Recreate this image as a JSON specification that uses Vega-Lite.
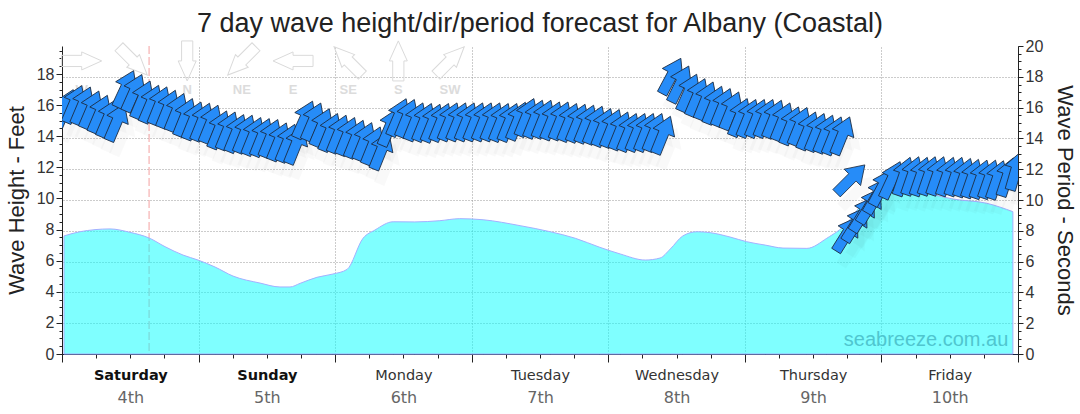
{
  "$schema": "https://vega.github.io/schema/vega-lite/v6.json",
  "width": 956,
  "height": 308,
  "autosize": "none",
  "padding": {"left": 62, "top": 46, "right": 62, "bottom": 60},
  "background": "white",
  "title": {
    "text": "7 day wave height/dir/period forecast for Albany (Coastal)",
    "font": "Liberation Sans",
    "fontSize": 27,
    "fontWeight": "normal",
    "color": "#222222",
    "anchor": "middle",
    "baseline": "alphabetic",
    "offset": 5,
    "dy": 26
  },
  "config": {
    "view": {"stroke": null},
    "axis": {"labelFont": "Liberation Sans", "titleFont": "Liberation Sans"}
  },
  "datasets": {
    "waves": [
      {"h": 0.35, "ft": 7.59}, {"h": 3.16, "ft": 7.86}, {"h": 8.44, "ft": 8.04}, {"h": 11.95, "ft": 7.82},
      {"h": 15.29, "ft": 7.46}, {"h": 18.1, "ft": 6.9}, {"h": 21.27, "ft": 6.36}, {"h": 23.9, "ft": 6.04},
      {"h": 26.9, "ft": 5.59}, {"h": 30.05, "ft": 5.01}, {"h": 34.8, "ft": 4.56}, {"h": 38.3, "ft": 4.31},
      {"h": 40.07, "ft": 4.31}, {"h": 41.83, "ft": 4.54}, {"h": 44.8, "ft": 4.93}, {"h": 47.6, "ft": 5.14},
      {"h": 50.1, "ft": 5.44}, {"h": 52.9, "ft": 7.44}, {"h": 55.0, "ft": 7.97}, {"h": 58.2, "ft": 8.5},
      {"h": 62.0, "ft": 8.49}, {"h": 66.4, "ft": 8.57}, {"h": 69.9, "ft": 8.7}, {"h": 74.0, "ft": 8.63},
      {"h": 80.5, "ft": 8.25}, {"h": 85.8, "ft": 7.86}, {"h": 90.2, "ft": 7.44}, {"h": 94.5, "ft": 6.86},
      {"h": 98.1, "ft": 6.43}, {"h": 102.5, "ft": 6.04}, {"h": 105.1, "ft": 6.17}, {"h": 106.9, "ft": 6.75},
      {"h": 109.1, "ft": 7.59}, {"h": 111.6, "ft": 7.86}, {"h": 113.9, "ft": 7.8}, {"h": 117.4, "ft": 7.52},
      {"h": 120.3, "ft": 7.22}, {"h": 123.6, "ft": 7.0}, {"h": 126.7, "ft": 6.81}, {"h": 130.9, "ft": 6.79},
      {"h": 134.4, "ft": 7.44}, {"h": 137.9, "ft": 8.4}, {"h": 140.2, "ft": 9.47}, {"h": 143.2, "ft": 10.54},
      {"h": 145.5, "ft": 10.74}, {"h": 149.0, "ft": 10.48}, {"h": 152.5, "ft": 10.29}, {"h": 156.6, "ft": 9.96},
      {"h": 162.5, "ft": 9.69}, {"h": 167.1, "ft": 9.15}
    ],
    "arrows": [
      {"h": 0.6, "period": 15.97, "dir": 203}, {"h": 2.1, "period": 16.23, "dir": 203}, {"h": 3.6, "period": 16.14, "dir": 203},
      {"h": 5.1, "period": 15.88, "dir": 203}, {"h": 6.6, "period": 15.6, "dir": 203}, {"h": 8.1, "period": 15.32, "dir": 203},
      {"h": 9.6, "period": 15.06, "dir": 203}, {"h": 11.1, "period": 17.22, "dir": 205}, {"h": 12.6, "period": 16.96, "dir": 204},
      {"h": 14.1, "period": 16.53, "dir": 203}, {"h": 15.6, "period": 16.25, "dir": 203}, {"h": 17.1, "period": 16.14, "dir": 202},
      {"h": 18.6, "period": 15.92, "dir": 202}, {"h": 20.1, "period": 15.71, "dir": 202}, {"h": 21.6, "period": 15.38, "dir": 202},
      {"h": 23.1, "period": 15.16, "dir": 202}, {"h": 24.6, "period": 15.08, "dir": 202}, {"h": 26.1, "period": 14.95, "dir": 202},
      {"h": 27.6, "period": 14.58, "dir": 202}, {"h": 29.1, "period": 14.51, "dir": 202}, {"h": 30.6, "period": 14.34, "dir": 202},
      {"h": 32.1, "period": 14.3, "dir": 202}, {"h": 33.6, "period": 14.15, "dir": 202}, {"h": 35.1, "period": 14.08, "dir": 202},
      {"h": 36.6, "period": 14.02, "dir": 202}, {"h": 38.1, "period": 13.8, "dir": 202}, {"h": 39.6, "period": 13.71, "dir": 202},
      {"h": 41.1, "period": 13.58, "dir": 202}, {"h": 42.6, "period": 15.23, "dir": 204}, {"h": 44.1, "period": 15.1, "dir": 203},
      {"h": 45.6, "period": 14.73, "dir": 203}, {"h": 47.1, "period": 14.41, "dir": 202}, {"h": 48.6, "period": 14.3, "dir": 202},
      {"h": 50.1, "period": 14.15, "dir": 202}, {"h": 51.6, "period": 13.97, "dir": 202}, {"h": 53.1, "period": 13.82, "dir": 202},
      {"h": 54.6, "period": 13.54, "dir": 202}, {"h": 56.1, "period": 13.21, "dir": 202}, {"h": 57.6, "period": 14.74, "dir": 203},
      {"h": 59.1, "period": 15.38, "dir": 203}, {"h": 60.6, "period": 15.32, "dir": 202}, {"h": 62.1, "period": 15.1, "dir": 202},
      {"h": 63.6, "period": 15.06, "dir": 202}, {"h": 65.1, "period": 15.01, "dir": 202}, {"h": 66.6, "period": 15.06, "dir": 202},
      {"h": 68.1, "period": 15.1, "dir": 202}, {"h": 69.6, "period": 15.1, "dir": 202}, {"h": 71.1, "period": 15.1, "dir": 202},
      {"h": 72.6, "period": 15.1, "dir": 202}, {"h": 74.1, "period": 15.1, "dir": 202}, {"h": 75.6, "period": 15.1, "dir": 202},
      {"h": 77.1, "period": 15.06, "dir": 202}, {"h": 78.6, "period": 15.06, "dir": 202}, {"h": 80.1, "period": 15.14, "dir": 202},
      {"h": 81.6, "period": 15.38, "dir": 202}, {"h": 83.1, "period": 15.27, "dir": 202}, {"h": 84.6, "period": 15.27, "dir": 202},
      {"h": 86.1, "period": 15.16, "dir": 202}, {"h": 87.6, "period": 15.16, "dir": 202}, {"h": 89.1, "period": 15.06, "dir": 202},
      {"h": 90.6, "period": 15.01, "dir": 202}, {"h": 92.1, "period": 14.95, "dir": 202}, {"h": 93.6, "period": 14.88, "dir": 202},
      {"h": 95.1, "period": 14.73, "dir": 202}, {"h": 96.6, "period": 14.67, "dir": 202}, {"h": 98.1, "period": 14.51, "dir": 202},
      {"h": 99.6, "period": 14.41, "dir": 202}, {"h": 101.1, "period": 14.41, "dir": 202}, {"h": 102.6, "period": 14.41, "dir": 202},
      {"h": 104.1, "period": 14.41, "dir": 202}, {"h": 105.6, "period": 14.23, "dir": 202}, {"h": 107.1, "period": 18.05, "dir": 208},
      {"h": 108.6, "period": 17.53, "dir": 206}, {"h": 110.1, "period": 16.98, "dir": 204}, {"h": 111.6, "period": 16.68, "dir": 203},
      {"h": 113.1, "period": 16.46, "dir": 202}, {"h": 114.6, "period": 16.18, "dir": 202}, {"h": 116.1, "period": 16.03, "dir": 202},
      {"h": 117.6, "period": 15.81, "dir": 202}, {"h": 119.1, "period": 15.38, "dir": 202}, {"h": 120.6, "period": 15.32, "dir": 202},
      {"h": 122.1, "period": 15.32, "dir": 202}, {"h": 123.6, "period": 15.32, "dir": 202}, {"h": 125.1, "period": 15.27, "dir": 202},
      {"h": 126.6, "period": 15.1, "dir": 202}, {"h": 128.1, "period": 14.84, "dir": 202}, {"h": 129.6, "period": 14.8, "dir": 202},
      {"h": 131.1, "period": 14.51, "dir": 202}, {"h": 132.6, "period": 14.41, "dir": 202}, {"h": 134.1, "period": 14.3, "dir": 202},
      {"h": 135.6, "period": 14.19, "dir": 202}, {"h": 137.1, "period": 14.19, "dir": 202},
      {"h": 138.6, "period": 11.36, "dir": 225},
      {"h": 137.9, "period": 7.79, "dir": 212}, {"h": 139.5, "period": 8.44, "dir": 212}, {"h": 140.8, "period": 9.09, "dir": 212},
      {"h": 142.0, "period": 9.64, "dir": 211}, {"h": 143.2, "period": 10.29, "dir": 210}, {"h": 144.1, "period": 10.82, "dir": 208},
      {"h": 145.8, "period": 11.31, "dir": 205}, {"h": 147.9, "period": 11.54, "dir": 199}, {"h": 149.4, "period": 11.58, "dir": 199},
      {"h": 150.9, "period": 11.54, "dir": 199}, {"h": 152.3, "period": 11.58, "dir": 199}, {"h": 153.8, "period": 11.58, "dir": 199},
      {"h": 155.5, "period": 11.54, "dir": 199}, {"h": 157.0, "period": 11.54, "dir": 199}, {"h": 158.5, "period": 11.47, "dir": 199},
      {"h": 159.9, "period": 11.41, "dir": 199}, {"h": 161.4, "period": 11.36, "dir": 199}, {"h": 162.9, "period": 11.36, "dir": 199},
      {"h": 164.3, "period": 11.32, "dir": 199}, {"h": 166.1, "period": 11.5, "dir": 198}, {"h": 167.6, "period": 11.9, "dir": 196}
    ],
    "key": [
      {"key": "W", "kh": 3.46, "kdir": 270}, {"key": "NW", "kh": 12.5, "kdir": 315},
      {"key": "N", "kh": 22.0, "kdir": 0}, {"key": "NE", "kh": 31.6, "kdir": 45},
      {"key": "E", "kh": 40.6, "kdir": 90}, {"key": "SE", "kh": 50.3, "kdir": 135},
      {"key": "S", "kh": 59.1, "kdir": 180}, {"key": "SW", "kh": 68.2, "kdir": 225}
    ]
  },
  "layer": [
    {
      "data": {"values": [{}]},
      "mark": {"type": "rule", "color": "#f4a0a0", "strokeDash": [8, 3], "strokeWidth": 1},
      "encoding": {
        "x": {
          "datum": 15.3, "type": "quantitative",
          "scale": {"domain": [0, 168], "nice": false, "zero": false},
          "axis": {
            "orient": "bottom", "values": [0, 24, 48, 72, 96, 120, 144, 168],
            "labels": false, "tickSize": 8, "tickColor": "#222222", "domainColor": "#1a2440",
            "grid": true, "gridColor": "#999999", "gridDash": [1, 2], "gridWidth": 1, "title": null
          }
        }
      }
    },
    {
      "data": {"name": "waves"},
      "mark": {"type": "area", "interpolate": "monotone", "fill": "#00ffff", "fillOpacity": 0.5, "stroke": "#a4b0ff", "strokeWidth": 1},
      "encoding": {
        "x": {
          "field": "h", "type": "quantitative",
          "scale": {"domain": [0, 168], "nice": false, "zero": false},
          "axis": {
            "orient": "bottom", "values": [12, 36, 60, 84, 108, 132, 156],
            "labelExpr": "['Saturday','Sunday','Monday','Tuesday','Wednesday','Thursday','Friday'][floor(datum.value/24)]",
            "labelFont": "DejaVu Sans", "labelFontSize": 14.5,
            "labelFontWeight": {"condition": {"test": "datum.value < 48", "value": "bold"}, "value": "normal"},
            "labelColor": {"condition": {"test": "datum.value < 48", "value": "#111111"}, "value": "#333333"},
            "labelPadding": 14, "ticks": false, "tickSize": 0, "domain": false, "grid": false, "title": null
          }
        },
        "y": {
          "field": "ft", "type": "quantitative",
          "scale": {"domain": [0, 19.8], "nice": false, "zero": true},
          "axis": {
            "orient": "left", "values": [0, 2, 4, 6, 8, 10, 12, 14, 16, 18],
            "tickSize": 6, "tickColor": "#222222", "domainColor": "#222222",
            "labelFontSize": 16, "labelColor": "#333333", "labelPadding": 2, "grid": false,
            "title": "Wave Height - Feet", "titleFontSize": 22, "titleFontWeight": "normal", "titleColor": "#222222", "titlePadding": 8
          }
        }
      }
    },
    {
      "data": {"name": "key"},
      "mark": {"type": "point", "shape": "M0,-1L0.45,0L0.28,0L0.28,1L-0.28,1L-0.28,0L-0.45,0Z", "size": 1600, "filled": false, "fill": null, "stroke": "#dadada", "strokeWidth": 1, "opacity": 1},
      "encoding": {
        "x": {
          "field": "kh", "type": "quantitative",
          "scale": {"domain": [0, 168], "nice": false, "zero": false},
          "axis": {
            "orient": "bottom", "values": [12, 36, 60, 84, 108, 132, 156],
            "labelExpr": "['4th','5th','6th','7th','8th','9th','10th'][floor(datum.value/24)]",
            "labelFont": "DejaVu Sans", "labelFontSize": 16, "labelColor": "#666666",
            "labelPadding": 35, "ticks": false, "tickSize": 0, "domain": false, "grid": false, "title": null
          }
        },
        "y": {
          "datum": 18.84, "type": "quantitative",
          "scale": {"domain": [0, 19.8], "nice": false, "zero": true},
          "axis": {
            "orient": "left", "values": [0, 0.5, 1, 1.5, 2, 2.5, 3, 3.5, 4, 4.5, 5, 5.5, 6, 6.5, 7, 7.5, 8, 8.5, 9, 9.5, 10, 10.5, 11, 11.5, 12, 12.5, 13, 13.5, 14, 14.5, 15, 15.5, 16, 16.5, 17, 17.5, 18, 18.5, 19, 19.5],
            "labels": false, "tickSize": 3, "tickColor": "#222222", "domain": false, "grid": false, "title": null
          }
        },
        "angle": {"field": "kdir", "type": "quantitative", "scale": {"domain": [0, 360], "range": [180, 540]}, "legend": null}
      }
    },
    {
      "data": {"name": "key"},
      "mark": {"type": "text", "font": "Liberation Sans", "fontSize": 13, "fontWeight": "bold", "color": "#dcdcdc", "baseline": "middle", "align": "center"},
      "encoding": {
        "x": {
          "field": "kh", "type": "quantitative",
          "scale": {"domain": [0, 168], "nice": false, "zero": false},
          "axis": {
            "orient": "bottom", "values": [0, 6, 12, 18, 24, 30, 36, 42, 48, 54, 60, 66, 72, 78, 84, 90, 96, 102, 108, 114, 120, 126, 132, 138, 144, 150, 156, 162, 168],
            "labels": false, "tickSize": 4, "tickColor": "#222222", "domain": false, "grid": false, "title": null
          }
        },
        "y": {"datum": 16.97, "type": "quantitative", "scale": {"domain": [0, 19.8], "nice": false, "zero": true}, "axis": null},
        "text": {"field": "key"}
      }
    },
    {
      "data": {"name": "arrows"},
      "mark": {"type": "point", "shape": "M0,-1L0.58,-0.12L0.26,-0.12L0.26,1L-0.26,1L-0.26,-0.12L-0.58,-0.12Z", "size": 1900, "filled": true, "fill": "#000000", "fillOpacity": 0.022, "strokeWidth": 0, "opacity": 1, "xOffset": 6, "yOffset": 13, "clip": true},
      "encoding": {
        "x": {"field": "h", "type": "quantitative", "scale": {"domain": [0, 168], "nice": false, "zero": false}, "axis": null},
        "y": {"field": "period", "type": "quantitative", "scale": {"domain": [0, 20], "nice": false, "zero": true}, "axis": null},
        "angle": {"field": "dir", "type": "quantitative", "scale": {"domain": [0, 360], "range": [180, 540]}, "legend": null}
      }
    },
    {
      "data": {"name": "arrows"},
      "mark": {"type": "point", "shape": "M0,-1L0.58,-0.12L0.26,-0.12L0.26,1L-0.26,1L-0.26,-0.12L-0.58,-0.12Z", "size": 1600, "filled": true, "fill": "#268cf8", "stroke": "#1b2b40", "strokeWidth": 0.8, "opacity": 1, "clip": true},
      "encoding": {
        "x": {"field": "h", "type": "quantitative", "scale": {"domain": [0, 168], "nice": false, "zero": false}, "axis": null},
        "y": {
          "field": "period", "type": "quantitative",
          "scale": {"domain": [0, 20], "nice": false, "zero": true},
          "axis": {
            "orient": "right", "values": [0, 2, 4, 6, 8, 10, 12, 14, 16, 18, 20],
            "tickSize": 5, "tickColor": "#222222", "domainColor": "#222222",
            "labelFontSize": 16, "labelColor": "#333333", "labelPadding": 2,
            "grid": true, "gridColor": "#999999", "gridDash": [1, 2], "gridWidth": 1,
            "gridOpacity": {"condition": {"test": "datum.value >= 20 || datum.value <= 0", "value": 0}, "value": 1},
            "title": "Wave Period - Seconds", "titleFontSize": 22, "titleFontWeight": "normal", "titleColor": "#222222", "titlePadding": 10
          }
        },
        "angle": {"field": "dir", "type": "quantitative", "scale": {"domain": [0, 360], "range": [180, 540]}, "legend": null}
      }
    },
    {
      "data": {"values": [{}]},
      "mark": {"type": "text", "text": "seabreeze.com.au", "font": "Liberation Sans", "fontSize": 20, "color": "#4fc6cf", "align": "right", "baseline": "middle"},
      "encoding": {
        "x": {"datum": 166.3, "type": "quantitative", "scale": {"domain": [0, 168], "nice": false, "zero": false}, "axis": null},
        "y": {
          "datum": 0.9, "type": "quantitative",
          "scale": {"domain": [0, 20], "nice": false, "zero": true},
          "axis": {
            "orient": "right", "values": [0, 0.5, 1, 1.5, 2, 2.5, 3, 3.5, 4, 4.5, 5, 5.5, 6, 6.5, 7, 7.5, 8, 8.5, 9, 9.5, 10, 10.5, 11, 11.5, 12, 12.5, 13, 13.5, 14, 14.5, 15, 15.5, 16, 16.5, 17, 17.5, 18, 18.5, 19, 19.5, 20],
            "labels": false, "tickSize": 3, "tickColor": "#222222", "domain": false, "grid": false, "title": null
          }
        }
      }
    }
  ],
  "resolve": {"scale": {"y": "independent"}, "axis": {"x": "independent", "y": "independent"}}
}
